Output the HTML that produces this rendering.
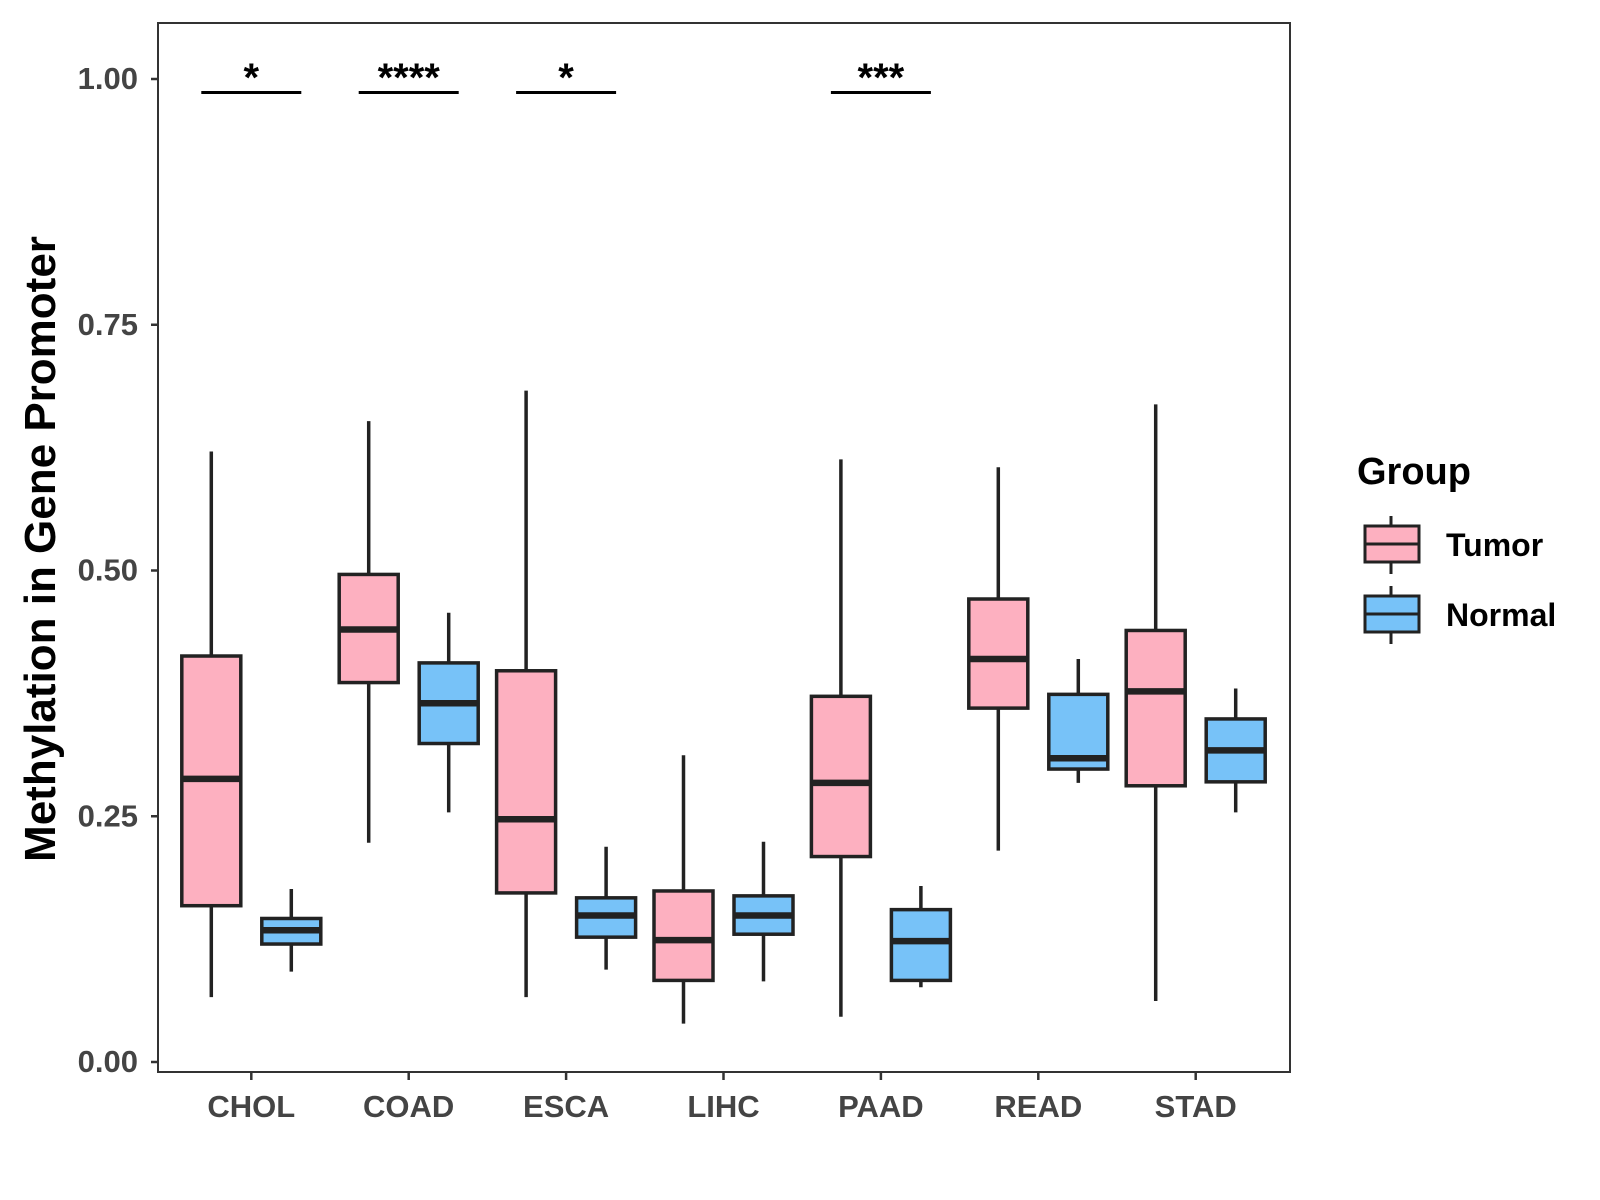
<!DOCTYPE html>
<html><head><meta charset="utf-8"><style>
html,body{margin:0;padding:0;background:#fff}
svg{display:block;font-family:"Liberation Sans",Arial,sans-serif}
</style></head><body>
<svg id="chart" width="1600" height="1200" viewBox="0 0 1600 1200">
<rect x="0" y="0" width="1600" height="1200" fill="#fff"/>
<g id="plot"></g>
</svg>
<script>
const categories = ["CHOL","COAD","ESCA","LIHC","PAAD","READ","STAD"];
// [low, q1, median, q3, high]
const tumorStats = [
 [0.066,0.159,0.288,0.413,0.621],
 [0.223,0.386,0.440,0.496,0.652],
 [0.066,0.172,0.247,0.398,0.683],
 [0.039,0.083,0.124,0.174,0.312],
 [0.046,0.209,0.284,0.372,0.613],
 [0.215,0.360,0.410,0.471,0.605],
 [0.062,0.281,0.377,0.439,0.669]
];
const normalStats = [
 [0.092,0.120,0.134,0.146,0.176],
 [0.254,0.324,0.365,0.406,0.457],
 [0.094,0.127,0.149,0.167,0.219],
 [0.082,0.130,0.149,0.169,0.224],
 [0.076,0.083,0.123,0.155,0.179],
 [0.284,0.298,0.309,0.374,0.410],
 [0.254,0.285,0.317,0.349,0.380]
];
const sigLabels = ["*","****","*","","***","",""];
const yTicks = [0,0.25,0.5,0.75,1.0];
const yTickLabels = ["0.00","0.25","0.50","0.75","1.00"];

const NS="http://www.w3.org/2000/svg";
const g=document.getElementById('plot');
const L=158,R=1290,T=23,B=1072;
const y=v=>1062-v*983;
const x=i=>251.3+i*157.4;
function mk(t,a,p){const e=document.createElementNS(NS,t);for(const k in a)e.setAttribute(k,a[k]);(p||g).appendChild(e);return e;}

const panel=mk('rect',{x:L,y:T,width:R-L,height:B-T,fill:'none',stroke:'#333','stroke-width':2});



yTicks.forEach((v,i)=>{
 const t=mk('line',{x1:L-7,x2:L,y1:y(v),y2:y(v),stroke:'#333','stroke-width':2.5});
 
 
 const tx=mk('text',{x:L-20,y:y(v)+10,'text-anchor':'end','font-size':31,'font-weight':'bold',fill:'#444'});
 tx.textContent=yTickLabels[i];
 
 
});
categories.forEach((c,i)=>{
 const t=mk('line',{x1:x(i),x2:x(i),y1:B,y2:B+8,stroke:'#333','stroke-width':2.5});
 
 
 const tx=mk('text',{x:x(i),y:B+45,'text-anchor':'middle','font-size':31,'font-weight':'bold',fill:'#444'});
 tx.textContent=c;
 
 
});

function box(cx,s,fill,name){
 const grp=mk('g',{});
 
 
 const w=59;
 mk('line',{x1:cx,x2:cx,y1:y(s[0]),y2:y(s[4]),stroke:'#222','stroke-width':3.5},grp);
 mk('rect',{x:cx-w/2,y:y(s[3]),width:w,height:y(s[1])-y(s[3]),fill:fill,stroke:'#222','stroke-width':3.5},grp);
 mk('line',{x1:cx-w/2,x2:cx+w/2,y1:y(s[2]),y2:y(s[2]),stroke:'#222','stroke-width':6.5},grp);
}
categories.forEach((c,i)=>{
 box(x(i)-40,tumorStats[i],'#FDB0C0','box-tumor-'+c.toLowerCase());
 box(x(i)+40,normalStats[i],'#77C2F8','box-normal-'+c.toLowerCase());
 if(sigLabels[i]){
  const l=mk('line',{x1:x(i)-50,x2:x(i)+50,y1:92.5,y2:92.5,stroke:'#000','stroke-width':3});
  
  
  const t=mk('text',{x:x(i),y:91,'text-anchor':'middle','font-size':40,'font-weight':'bold',fill:'#000'});
  t.textContent=sigLabels[i];
  
  
 }
});

const yt=mk('text',{x:0,y:0,transform:'translate(55,549) rotate(-90)','text-anchor':'middle','font-size':44,'font-weight':'bold',fill:'#000'});
yt.textContent='Methylation in Gene Promoter';



const lt=mk('text',{x:1357,y:484,'font-size':38,'font-weight':'bold',fill:'#000'});
lt.textContent='Group';


[['Tumor','#FDB0C0',526],['Normal','#77C2F8',596]].forEach(([n,f,top])=>{
 const e=mk('g',{});
 
 
 mk('line',{x1:1391,x2:1391,y1:top-10,y2:top+48,stroke:'#222','stroke-width':3},e);
 mk('rect',{x:1365,y:top,width:54,height:36,fill:f,stroke:'#222','stroke-width':3},e);
 mk('line',{x1:1365,x2:1419,y1:top+18,y2:top+18,stroke:'#222','stroke-width':3},e);
 const t=mk('text',{x:1446,y:top+30,'font-size':32,'font-weight':'bold',fill:'#000'},e);
 t.textContent=n;
});
</script>
</body></html>
